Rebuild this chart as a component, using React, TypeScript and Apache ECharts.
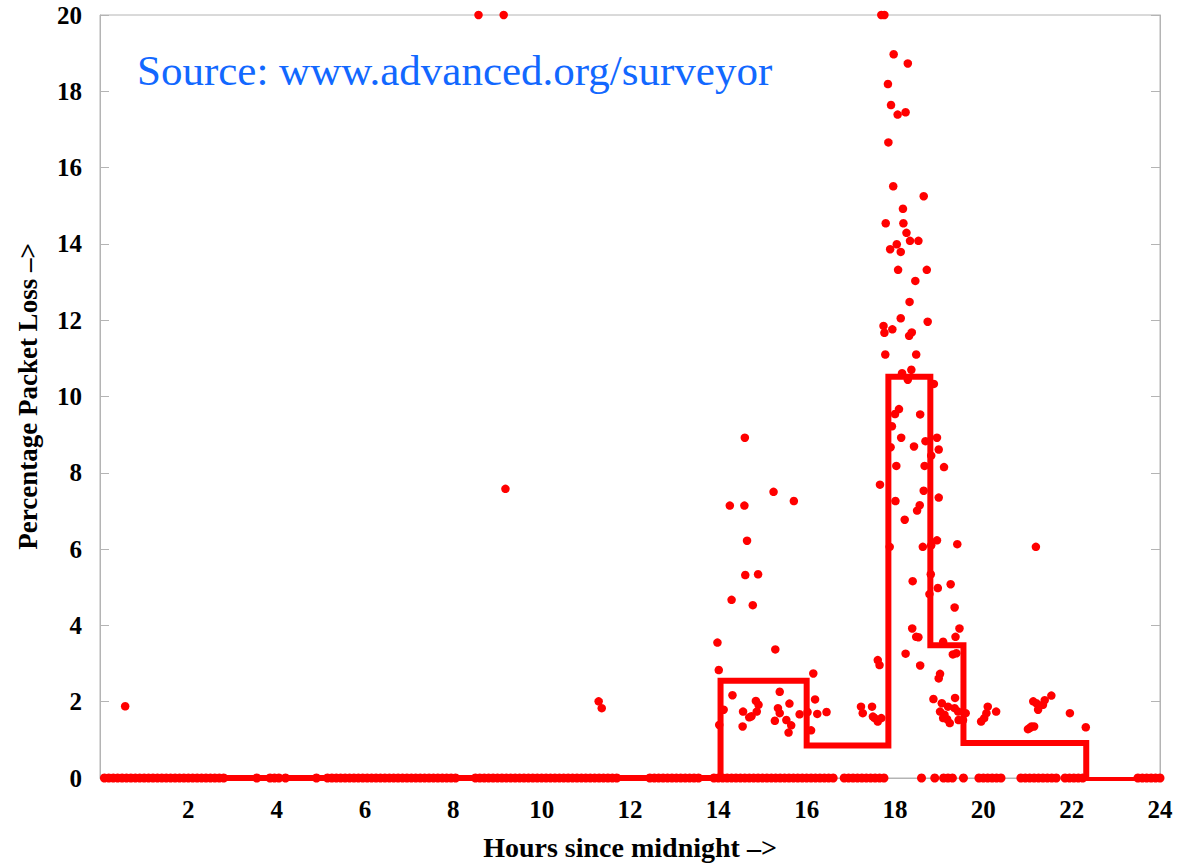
import React, { useEffect, useRef } from "react";
import * as echarts from "echarts";

// Hours (since midnight) of samples with 0 % packet loss
const zeroHours = [
  0.1, 0.2, 0.3, 0.4, 0.5, 0.6, 0.7, 0.8, 0.9, 1.0, 1.1, 1.2, 1.3, 1.4, 1.5, 1.6, 1.7, 1.8, 1.9, 2.0,
  2.1, 2.2, 2.3, 2.4, 2.5, 2.6, 2.7, 2.8,
  3.55, 3.85, 3.95, 4.05, 4.2, 4.9,
  5.15, 5.25, 5.35, 5.45, 5.55, 5.65, 5.75, 5.85, 5.95, 6.05, 6.15, 6.25, 6.35, 6.45, 6.55, 6.65,
  6.75, 6.85, 6.95, 7.05, 7.15, 7.25, 7.35, 7.45, 7.55, 7.65, 7.75, 7.85, 7.95, 8.05,
  8.5, 8.6, 8.7, 8.8, 8.9, 9.0, 9.1, 9.2, 9.3, 9.4, 9.5, 9.6, 9.7, 9.8, 9.9, 10.0, 10.1, 10.2,
  10.3, 10.4, 10.5, 10.6, 10.7, 10.8, 10.9, 11.0, 11.1, 11.2, 11.3, 11.4, 11.5, 11.6, 11.7,
  12.45, 12.55, 12.65, 12.75, 12.85, 12.95, 13.05, 13.15, 13.25, 13.35, 13.45, 13.55,
  13.9, 14.0, 14.1, 14.2, 14.3, 14.4, 14.5, 14.6, 14.7, 14.8, 14.9, 15.0, 15.1, 15.2, 15.3,
  15.4, 15.5, 15.6, 15.7, 15.8, 15.9, 16.0, 16.1, 16.2, 16.3, 16.4, 16.5, 16.6,
  16.85, 16.95, 17.05, 17.15, 17.25, 17.35, 17.45, 17.55, 17.65, 17.75,
  18.6, 18.9, 19.1, 19.2, 19.3, 19.55,
  19.9, 20.0, 20.1, 20.2, 20.3, 20.4,
  20.85, 20.95, 21.05, 21.15, 21.25, 21.35, 21.45, 21.55, 21.65,
  21.85, 21.95, 22.05, 22.15, 22.25,
  23.5, 23.6, 23.7, 23.8, 23.9, 24.0,
];

// [hour, % packet loss] samples with non-zero loss
const lossPoints = [
  [0.57, 1.88], [8.57, 20], [9.14, 20], [9.18, 7.58], [11.29, 2.01], [11.36, 1.83],
  [14.6, 8.92], [15.25, 7.5], [15.71, 7.26], [14.26, 7.14], [14.59, 7.14], [14.65, 6.22],
  [14.61, 5.32], [14.9, 5.34], [14.3, 4.67], [14.78, 4.53], [13.98, 3.55], [15.29, 3.37],
  [14.01, 2.83], [16.15, 2.74], [14.32, 2.17], [15.39, 2.26], [16.19, 2.06], [14.85, 2.02],
  [14.91, 1.92], [14.12, 1.79], [15.61, 1.95], [15.35, 1.83], [14.56, 1.74], [14.87, 1.74],
  [15.39, 1.7], [15.84, 1.67], [16.02, 1.73], [16.24, 1.68], [16.45, 1.73], [14.7, 1.59],
  [14.75, 1.62], [15.28, 1.5], [14.55, 1.35], [15.65, 1.38], [15.59, 1.19], [14.02, 1.39],
  [16.1, 1.25], [15.54, 1.52],
  [17.23, 1.87], [17.48, 1.87], [17.27, 1.7], [17.54, 1.57], [17.61, 1.48], [17.5, 1.61],
  [17.69, 1.57], [17.61, 3.09], [17.65, 2.96], [17.66, 7.69],
  [17.69, 20], [17.76, 20], [17.97, 18.97], [18.29, 18.73], [17.84, 18.19], [17.91, 17.64],
  [18.06, 17.39], [18.24, 17.45], [17.85, 16.66], [17.96, 15.51], [18.65, 15.25], [18.18, 14.92],
  [17.79, 14.54], [18.19, 14.54], [18.26, 14.29], [18.34, 14.08], [18.53, 14.08], [18.04, 13.99],
  [17.89, 13.86], [18.13, 13.79], [18.07, 13.32], [18.72, 13.32], [18.46, 13.03], [18.33, 12.48],
  [18.13, 12.05], [18.74, 11.96], [17.74, 11.85], [17.76, 11.67], [17.94, 11.76], [18.32, 11.59],
  [18.38, 11.68], [17.78, 11.1], [18.48, 11.1], [18.37, 10.7], [18.16, 10.61], [18.29, 10.44],
  [18.88, 10.33],
  [18.09, 9.67], [18.0, 9.54], [18.57, 9.53], [17.93, 9.22], [18.14, 8.92], [18.95, 8.92],
  [18.69, 8.83], [17.9, 8.67], [18.43, 8.69], [18.99, 8.61], [18.82, 8.45], [18.03, 8.18],
  [18.67, 8.18], [19.11, 8.15], [18.65, 7.53], [18.99, 7.35], [18.01, 7.26], [18.56, 7.15],
  [18.5, 7.01], [18.22, 6.77], [17.88, 6.06], [18.63, 6.06], [18.82, 6.1], [18.95, 6.23],
  [19.41, 6.13], [21.19, 6.06], [18.81, 5.34], [18.4, 5.16], [19.26, 5.08], [18.97, 4.98],
  [18.78, 4.82], [19.35, 4.47], [18.39, 3.92], [19.46, 3.92], [18.48, 3.7], [18.53, 3.69],
  [19.37, 3.7], [19.09, 3.57], [19.39, 3.27], [19.31, 3.24], [18.24, 3.26], [18.57, 2.95],
  [19.02, 2.73], [18.99, 2.61], [18.87, 2.07], [19.36, 2.1], [19.06, 1.96], [19.2, 1.87],
  [19.35, 1.83], [19.02, 1.74], [19.12, 1.66], [19.18, 1.54], [19.09, 1.57], [19.24, 1.44],
  [19.43, 1.74], [19.6, 1.7], [19.54, 1.52], [19.44, 1.52],
  [20.1, 1.87], [20.29, 1.74], [20.07, 1.7], [20.02, 1.57], [19.95, 1.48],
  [21.13, 2.01], [21.2, 1.96], [21.24, 1.79], [21.09, 1.35], [21.01, 1.28], [21.39, 2.04],
  [21.35, 1.92], [21.54, 2.16], [21.05, 1.31], [21.15, 1.35], [21.96, 1.7], [22.32, 1.33],
];

// Averaged loss per period (step line): level holds from each hour to the next
const stepHours = [0.1, 14.05, 16.0, 17.85, 18.8, 19.55, 22.33, 23.95];
const stepLoss = [0, 2.55, 0.85, 10.52, 3.48, 0.92, -0.05, -0.05];

const xTitle = "Hours since midnight –>";
const yTitle = "Percentage Packet Loss –>";
const sourceText = "Source: www.advanced.org/surveyor";

const RED = "#ff0000";
const AXIS_GRAY = "#b4b4b4";
const SERIF = "'Liberation Serif', 'DejaVu Serif', serif";

export default function App() {
  const ref = useRef<HTMLDivElement>(null);

  useEffect(() => {
    if (!ref.current) return;
    const chart = echarts.init(ref.current, undefined, { renderer: "svg" });
    const labelStyle = {
      fontFamily: SERIF,
      fontWeight: "bold" as const,
      fontSize: 25,
      color: "#000",
    };
    chart.setOption({
      animation: false,
      backgroundColor: "#fff",
      grid: {
        left: 100,
        right: 19,
        top: 15,
        bottom: 86,
        show: true,
        borderColor: AXIS_GRAY,
        borderWidth: 1,
        containLabel: false,
      },
      xAxis: {
        type: "value",
        min: 0,
        max: 24,
        interval: 2,
        axisLine: { show: true, lineStyle: { color: AXIS_GRAY, width: 1 } },
        axisTick: { show: false },
        splitLine: { show: false },
        axisLabel: {
          ...labelStyle,
          margin: 19,
          formatter: (v: number) => (v === 0 ? "" : String(v)),
        },
        name: xTitle,
        nameLocation: "middle",
        nameGap: 55,
        nameTextStyle: { ...labelStyle, fontSize: 28 },
      },
      yAxis: [
        {
          type: "value",
          min: 0,
          max: 20,
          interval: 2,
          position: "left",
          axisLine: { show: true, lineStyle: { color: AXIS_GRAY, width: 1 } },
          axisTick: { show: true, inside: true, length: 9, lineStyle: { color: AXIS_GRAY } },
          splitLine: { show: false },
          axisLabel: { ...labelStyle, margin: 18 },
          name: yTitle,
          nameLocation: "middle",
          nameGap: 59,
          nameTextStyle: { ...labelStyle, fontSize: 27 },
        },
        {
          type: "value",
          min: 0,
          max: 20,
          interval: 2,
          position: "right",
          axisLine: { show: true, lineStyle: { color: AXIS_GRAY, width: 1 } },
          axisTick: { show: true, inside: true, length: 9, lineStyle: { color: AXIS_GRAY } },
          splitLine: { show: false },
          axisLabel: { show: false },
        },
      ],
      series: [
        {
          type: "scatter",
          data: zeroHours.map((h) => [h, 0]),
          symbol: "circle",
          symbolSize: 9,
          itemStyle: { color: RED, opacity: 1 },
          silent: true,
        },
        {
          type: "scatter",
          data: lossPoints,
          symbol: "circle",
          symbolSize: 8.5,
          itemStyle: { color: RED, opacity: 1 },
          silent: true,
        },
        {
          type: "line",
          data: stepHours.map((h, i) => [h, stepLoss[i]]),
          step: "end",
          showSymbol: false,
          symbol: "none",
          lineStyle: { color: RED, width: 6, join: "miter" },
          silent: true,
          z: 3,
        },
      ],
      graphic: [
        {
          type: "text",
          left: 137,
          top: 49,
          style: {
            text: sourceText,
            fill: "#1268ff",
            font: `43px ${SERIF}`,
          },
        },
      ],
    });
    return () => chart.dispose();
  }, []);

  return (
    <div
      ref={ref}
      style={{ position: "absolute", left: 0, top: 0, width: 1179, height: 866, background: "#fff" }}
    />
  );
}
